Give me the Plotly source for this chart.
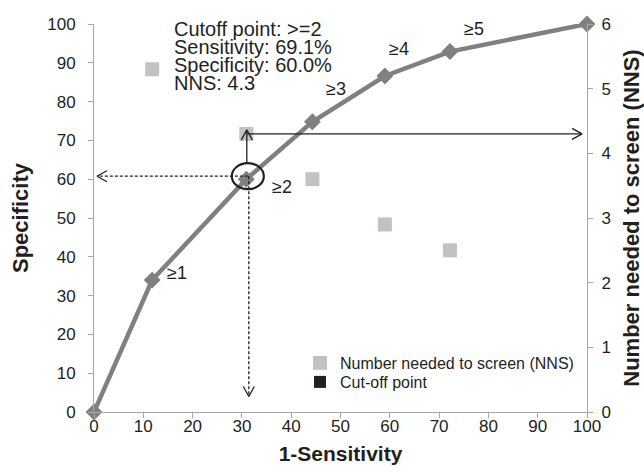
import plotly.graph_objects as go

# ---------------- data ----------------
one_minus_sens = [0, 11.8, 30.9, 44.3, 59.0, 72.2, 100]
specificity = [0, 34.0, 60.0, 74.8, 86.6, 92.9, 100]
cut_labels = ["", "≥1", "≥2", "≥3", "≥4", "≥5", ""]
label_dx = [0, 25, 36, 24, 14, 24, 0]     # label offsets (px)
label_dy = [0, 7, -8, 33, 27, 23, 0]

nns_x = [11.8, 30.9, 44.3, 59.0, 72.2]
nns_values = [5.3, 4.3, 3.6, 2.9, 2.5]

cutoff_label = ">=2"
cutoff_sens = 69.1
cutoff_spec = 60.0
cutoff_nns = 4.3

info_lines = [
    f"Cutoff point: {cutoff_label}",
    f"Sensitivity: {cutoff_sens:.1f}%",
    f"Specificity: {cutoff_spec:.1f}%",
    f"NNS: {cutoff_nns}",
]

x_ticks = list(range(0, 101, 10))
y_ticks = list(range(0, 101, 10))
y2_ticks = list(range(0, 7))

# ---------------- geometry ----------------
W, H = 644, 473
ML, MR, MT, MB = 94, 57, 24, 61
PW, PH = W - ML - MR, H - MT - MB
PX = 100.0 / PW   # x units per pixel
PY = 100.0 / PH   # y units per pixel (left axis)

FONT = "Liberation Sans, Arial, Helvetica, sans-serif"
TXT = "#231f20"
AX = "#a6a6a6"
LINE = "#808080"
SQ = "#c2c2c6"

fig = go.Figure()

fig.add_trace(go.Scatter(
    x=one_minus_sens, y=specificity, mode="lines+markers",
    line=dict(color=LINE, width=4.5),
    marker=dict(symbol="diamond", size=13, color=LINE),
    showlegend=False, cliponaxis=False, hoverinfo="skip"))

fig.add_trace(go.Scatter(
    x=nns_x, y=nns_values, yaxis="y2", mode="markers",
    marker=dict(symbol="square", size=14, color=SQ),
    name="Number needed to screen (NNS)", legend="legend"))

fig.add_trace(go.Scatter(
    x=[None], y=[None], mode="markers",
    marker=dict(symbol="square", size=12, color=TXT),
    name="Cut-off point", legend="legend2"))

shapes = []
annotations = []

cx = 100 - cutoff_sens
cy = cutoff_spec
ny = cutoff_nns * 100 / 6.0  # NNS value on left scale


def seg(x0, y0, x1, y1, dash="solid", w=1.3):
    shapes.append(dict(type="line", xref="x", yref="y", x0=x0, y0=y0, x1=x1, y1=y1,
                       line=dict(color=TXT, width=w, dash=dash)))


def head(x, y, dx, dy):
    # open V arrowhead at tip (x, y), pointing in pixel direction (dx, dy)
    back, side = 10, 5.5
    bx, by = -dx * back, -dy * back
    sx, sy = -dy * side, dx * side
    for s in (1, -1):
        seg(x, y, x + (bx + s * sx) * PX, y + (by + s * sy) * PY, w=1.3)


dash = "3px,2px"
ccx, ccy = cx + 0.3, cy + 3 * PY
seg(ccx, ccy, 0.6, ccy, dash)
head(0.6, ccy, -1, 0)
seg(ccx + 1 * PX, ccy, ccx + 1 * PX, 4.0, dash)
head(ccx + 1 * PX, 4.0, 0, -1)
seg(ccx - 1 * PX, ccy + 13 * PY, ccx - 1 * PX, ny + 4 * PY)
head(ccx - 1 * PX, ny + 4 * PY, 0, 1)
seg(ccx - 1 * PX, ny, 99.0, ny)
head(99.0, ny, 1, 0)
shapes.append(dict(type="circle", xref="x", yref="y",
                   x0=ccx - 16 * PX, x1=ccx + 16 * PX,
                   y0=ccy - 13 * PY, y1=ccy + 13 * PY,
                   line=dict(color=TXT, width=2.2)))

for x, y, t, dx, dy in zip(one_minus_sens, specificity, cut_labels, label_dx, label_dy):
    if t:
        annotations.append(dict(x=x, y=y, xref="x", yref="y", text=t, showarrow=False,
                                xshift=dx, yshift=dy, font=dict(size=18, color=TXT, family=FONT)))

info_x = (172 - ML) * PX
for i, t in enumerate(info_lines):
    ypx = 29 + 18 * i
    annotations.append(dict(x=info_x, y=(MT + PH - ypx) * PY, xref="x", yref="y",
                            text=t, showarrow=False, xanchor="left", yanchor="middle",
                            font=dict(size=20, color=TXT, family=FONT)))

axis_common = dict(showline=True, linecolor=AX, linewidth=1, ticks="outside", ticklen=5,
                   tickcolor=AX, showgrid=False, zeroline=False, automargin=False,
                   tickfont=dict(size=17, color=TXT, family=FONT))

legend_common = dict(xanchor="left", yanchor="middle", bgcolor="rgba(0,0,0,0)",
                     font=dict(size=16, color=TXT, family=FONT), itemwidth=30,
                     borderwidth=0)

fig.update_layout(
    width=W, height=H,
    margin=dict(l=ML, r=MR, t=MT, b=MB),
    paper_bgcolor="white", plot_bgcolor="white",
    font=dict(family=FONT, color=TXT),
    xaxis=dict(range=[0, 100], tickvals=x_ticks, **axis_common, ticklabelstandoff=-6,
               title=dict(text="<b>1-Sensitivity</b>", font=dict(size=21, color=TXT, family=FONT),
                          standoff=10)),
    yaxis=dict(range=[0, 100], tickvals=y_ticks, **axis_common, ticklabelstandoff=9,
               title=dict(text="<b>Specificity</b>", font=dict(size=22, color=TXT, family=FONT),
                          standoff=12)),
    yaxis2=dict(range=[0, 6], tickvals=y2_ticks, overlaying="y", side="right", **axis_common,
                ticklabelstandoff=5,
                title=dict(text="<b>Number needed to screen (NNS)</b>",
                           font=dict(size=22, color=TXT, family=FONT), standoff=19)),
    legend=dict(x=(300 - ML) / PW, y=(MT + PH - 363) / PH, **legend_common),
    legend2=dict(x=(300 - ML) / PW, y=(MT + PH - 382) / PH, **legend_common),
    shapes=shapes,
    annotations=annotations,
)

fig.write_html("out.html", post_script="document.body.style.margin='0';",
               config={"displayModeBar": False})
